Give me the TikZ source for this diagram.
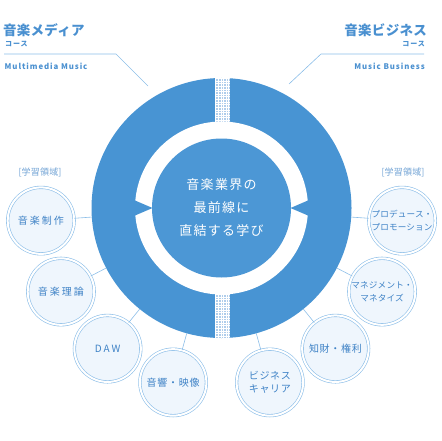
\documentclass[tikz,border=0pt]{standalone}
\usepackage{fontspec}
\setmainfont{Noto Sans CJK JP}
\newfontfamily\circfont{Noto Sans CJK JP}[LetterSpace=20]
\newfontfamily\circdfont{Noto Sans CJK JP}[LetterSpace=7]
\newfontfamily\circsfont{Noto Sans CJK JP}[LetterSpace=2]
\newfontfamily\corefont{Noto Sans CJK JP}[LetterSpace=10]
\newfontfamily\titlefont{Noto Sans CJK JP}[LetterSpace=2]
\newfontfamily\subfont{Noto Sans CJK JP}[LetterSpace=12]
\usetikzlibrary{calc}
\definecolor{mainblue}{RGB}{72,148,211}
\definecolor{coreblue}{RGB}{76,151,213}
\definecolor{lineblue}{RGB}{140,190,232}
\definecolor{paleblue}{RGB}{239,246,253}
\definecolor{textblue}{RGB}{62,130,198}
\definecolor{titleblue}{RGB}{74,144,208}
\definecolor{labelblue}{RGB}{112,162,212}
\definecolor{stripbg}{RGB}{175,205,235}
\tikzset{
  smallc/.style={circle, draw=lineblue, line width=0.6pt, double=white, double distance=2pt,
    fill=paleblue, minimum size=66.5pt, inner sep=0pt, align=center, text=textblue,
    font=\circfont\fontsize{10}{12.5}\selectfont},
  smallcdot/.style={smallc, font=\circdfont\fontsize{10}{12.5}\selectfont},
  smallctwo/.style={smallc, font=\circsfont\fontsize{8.6}{12.5}\selectfont},
  conn/.style={draw=lineblue, line width=0.6pt},
  titletxt/.style={inner sep=0pt, text=titleblue, font=\titlefont\bfseries\fontsize{13.5}{14}\selectfont},
  coursetxt/.style={inner sep=0pt, text=titleblue, font=\subfont\bfseries\fontsize{7}{8}\selectfont},
  engtxt/.style={inner sep=0pt, text=titleblue, font=\subfont\bfseries\fontsize{7.8}{9}\selectfont},
  areatxt/.style={inner sep=0pt, text=labelblue, font=\circsfont\fontsize{9}{10}\selectfont},
}
\begin{document}
\begin{tikzpicture}[x=1pt,y=-1pt]
\useasboundingbox (0,0) rectangle (441,441);
\coordinate (O) at (221.5,208);
% big disc
\node[circle, fill=mainblue, minimum size=260pt, inner sep=0pt, outer sep=0pt] (big) at (O) {};
% dotted strip
\begin{scope}
\clip (O) circle (130pt);
\fill[stripbg] (215,70) rectangle (230,345);
\foreach \i in {0,...,5} \draw[white, line width=0.6pt] (215.6+2.6*\i,70) -- (215.6+2.6*\i,345);
\foreach \j in {0,...,106} \draw[white, line width=0.6pt] (215,76+2.6*\j) -- (230,76+2.6*\j);
\end{scope}
% white ring
\fill[white] (O) circle (86.5pt);
\fill[mainblue] ($(O)+(175:87pt)$) -- ($(O)+(180:69pt)$) -- ($(O)+(185:87pt)$) -- cycle;
\fill[mainblue] ($(O)+(-5:87pt)$) -- ($(O)+(0:69pt)$) -- ($(O)+(5:87pt)$) -- cycle;
% core
\node[circle, fill=coreblue, minimum size=139pt, inner sep=0pt, text=white, align=center,
  font=\corefont\fontsize{13}{23}\selectfont] (core) at (O) {音楽業界の\\最前線に\\直結する学び};
% small circles
\node[smallc] (c1) at ($(O)+(176:181)$) {音楽制作};
\node[smallc] (c2) at ($(O)+(152.5:181)$) {音楽理論};
\node[smallc] (c3) at ($(O)+(129:181)$) {DAW};
\node[smallcdot] (c4) at ($(O)+(105.5:181)$) {音響・映像};
\node[smallcdot] (c5) at ($(O)+(74.5:181)$) {ビジネス\\キャリア};
\node[smallcdot] (c6) at ($(O)+(51:181)$) {知財・権利};
\node[smallctwo] (c7) at ($(O)+(27.5:181)$) {マネジメント・\\マネタイズ};
\node[smallctwo] (c8) at ($(O)+(4:181)$) {プロデュース・\\プロモーション};
\foreach \n in {c1,c2,c3,c4,c5,c6,c7,c8} \draw[conn] (\n) -- (big);
% area labels
\node[areatxt] (al) at (40,172) {[学習領域]};
\node[areatxt] (ar) at (403,172) {[学習領域]};
% titles left
\node[titletxt, anchor=west] (tl) at (3,30.5) {音楽メディア};
\node[coursetxt, anchor=west] (cl) at (5,44.5) {コース};
\node[engtxt, anchor=west] (el) at (4.5,66.5) {Multimedia Music};
\coordinate (l0) at (4,54);
\coordinate (l1) at (116,54);
\coordinate (l2) at (148,86);
\draw[conn] (l0) -- (l1) -- (l2);
% titles right
\node[titletxt, anchor=east] (tr) at (427,30.5) {音楽ビジネス};
\node[coursetxt, anchor=east] (cr) at (425,44.5) {コース};
\node[engtxt, anchor=east] (er) at (425,66.5) {Music Business};
\coordinate (r0) at (424,54);
\coordinate (r1) at (321,54);
\coordinate (r2) at (289,84);
\draw[conn] (r0) -- (r1) -- (r2);
\end{tikzpicture}
\end{document}
